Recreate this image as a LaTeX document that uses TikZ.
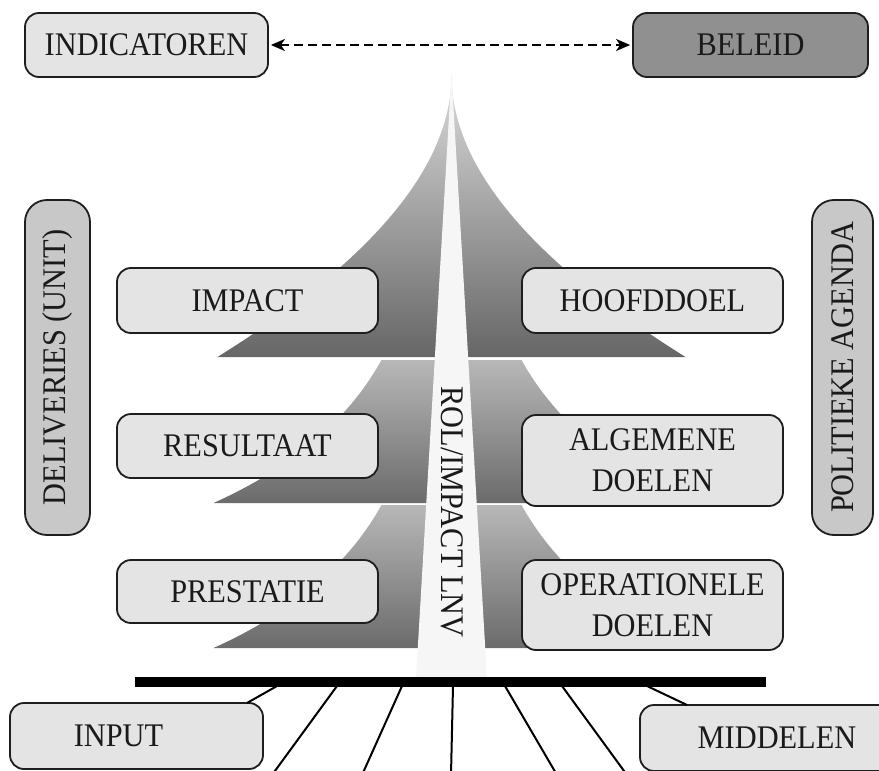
\documentclass[tikz,border=0pt]{standalone}
\usepackage{fontspec}
\setmainfont[FakeStretch=0.92]{Liberation Serif}
\usetikzlibrary{arrows.meta}
\definecolor{boxfill}{HTML}{E4E4E4}
\definecolor{sidefill}{HTML}{C8C8C8}
\definecolor{darkfill}{HTML}{909090}
\definecolor{edge}{HTML}{1E1E1E}
\definecolor{txt}{HTML}{1A1A1A}
\definecolor{stripe}{HTML}{F6F6F6}
\newcommand{\bigtxt}{\fontsize{33}{38}\selectfont}
\begin{document}
\begin{tikzpicture}[x=1pt,y=-1pt,
  box/.style={draw=edge, line width=1.8pt, rounded corners=14pt, fill=boxfill,
    font=\bigtxt, text=txt, align=center, inner sep=0pt},
  sidebox/.style={box, fill=sidefill, rounded corners=22pt},
  tier/.style={draw=none},
  fan/.style={draw=black, line width=2pt},
  link/.style={draw=black, line width=2pt, dash pattern=on 9pt off 5pt,
    {Stealth[length=14pt,width=12pt,inset=4pt]}-{Stealth[length=14pt,width=12pt,inset=4pt]}}
]
\useasboundingbox (0,0) rectangle (879,771);
\fill[white] (0,0) rectangle (879,771);

% tiers of the tree
\path[tier, top color=black!14, bottom color=black!60]
  (451.5,75) .. controls (451.5,165.7) and (373.5,259.7) .. (217.5,357)
  -- (685.5,357) .. controls (529.5,259.7) and (451.5,165.7) .. cycle;
\path[tier, top color=black!28, bottom color=black!58]
  (381.5,360) .. controls (348.2,420) and (292.2,467.7) .. (213.5,503)
  -- (689.5,503) .. controls (610.8,467.7) and (554.8,420) .. (521.5,360) -- cycle;
\path[tier, top color=black!28, bottom color=black!58]
  (381.5,505) .. controls (348.2,565) and (292.2,612.7) .. (213.5,648)
  -- (689.5,648) .. controls (610.8,612.7) and (554.8,565) .. (521.5,505) -- cycle;
% central stripe
\fill[stripe] (451.5,74) -- (487,678) -- (416,678) -- cycle;
\node[font=\bigtxt, text=txt, rotate=-90, inner sep=0pt] (rol) at (452,512) {ROL/IMPACT LNV};

% top boxes
\node[box, minimum width=243pt, minimum height=64pt] (ind) at (146.5,45) {INDICATOREN};
\node[box, fill=darkfill, minimum width=235pt, minimum height=64pt] (bel) at (750.5,45) {BELEID};
\draw[link] ([xshift=2pt]ind.east) -- ([xshift=-2pt]bel.west);

% left column
\node[box, minimum width=261pt, minimum height=65pt] (impact) at (247.5,300.5) {IMPACT};
\node[box, minimum width=261pt, minimum height=64pt] (result) at (247.5,446) {RESULTAAT};
\node[box, minimum width=261pt, minimum height=63pt] (prest) at (247.5,591.5) {PRESTATIE};
% right column
\node[box, minimum width=261pt, minimum height=65pt] (hoofd) at (652.5,300.5) {HOOFDDOEL};
\node[box, minimum width=261pt, minimum height=91pt] (alg) at (652.5,460.5) {ALGEMENE\\[3pt]DOELEN};
\node[box, minimum width=261pt, minimum height=90pt] (oper) at (652.5,605) {OPERATIONELE\\[3pt]DOELEN};

% side boxes
\node[sidebox, rotate=90, minimum width=335pt, minimum height=65pt] (deliv) at (57.5,367.5) {DELIVERIES (UNIT)};
\node[sidebox, rotate=90, minimum width=335pt, minimum height=61pt] (polit) at (842.5,367.5) {POLITIEKE AGENDA};

% bar and bottom
\node[fill=black, inner sep=0pt, minimum width=631pt, minimum height=10pt] (bar) at (450.5,682) {};
\node[box, minimum width=253pt, minimum height=66pt] (input) at (136.5,736) {INPUT\hspace*{36pt}};
\node[box, minimum width=274pt, minimum height=66pt] (midd) at (777,738) {MIDDELEN};

\coordinate (b1) at (277,686);
\coordinate (b2) at (337,686);
\coordinate (b3) at (402,686);
\coordinate (b4) at (453,686);
\coordinate (b5) at (505,686);
\coordinate (b6) at (562,686);
\coordinate (b7) at (647,686);
\coordinate (i1) at (247,703);
\coordinate (m1) at (687,705);
\coordinate (e2) at (272,775);
\coordinate (e3) at (362,775);
\coordinate (e4) at (451,775);
\coordinate (e5) at (557,775);
\coordinate (e6) at (627,775);
\draw[fan] (b1) -- (i1);
\draw[fan] (b7) -- (m1);
\draw[fan] (b2) -- (e2);
\draw[fan] (b3) -- (e3);
\draw[fan] (b4) -- (e4);
\draw[fan] (b5) -- (e5);
\draw[fan] (b6) -- (e6);
\end{tikzpicture}
\end{document}
